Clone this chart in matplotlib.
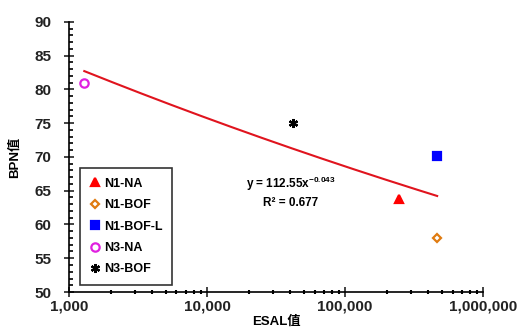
import numpy as np
import matplotlib.pyplot as plt
from matplotlib.ticker import FuncFormatter, MultipleLocator, LogLocator

plt.rcParams['font.family'] = ['Liberation Sans', 'Noto Sans CJK SC', 'DejaVu Sans']
plt.rcParams['font.weight'] = 'bold'
plt.rcParams['mathtext.fontset'] = 'custom'
plt.rcParams['mathtext.rm'] = 'Liberation Sans:bold'
plt.rcParams['mathtext.default'] = 'rm'

# ESAL vs BPN per section
names = ['N1-NA', 'N1-BOF', 'N1-BOF-L', 'N3-NA', 'N3-BOF']
esal = [246000, 464000, 464000, 1290, 42000]
bpn = [63.8, 58.0, 70.1, 81.0, 75.0]

# power-law fit y = a * x^b
a, b = 112.55, -0.043
r2 = 0.677

styles = {
    'N1-NA': dict(marker='^', color='red', facecolor='red', ms=6),
    'N1-BOF': dict(marker='D', color='#e07b10', facecolor='white', ms=4.5),
    'N1-BOF-L': dict(marker='s', color='blue', facecolor='blue', ms=6),
    'N3-NA': dict(marker='o', color='#e020e0', facecolor='white', ms=6),
    'N3-BOF': dict(marker=(6, 2, 0), color='black', facecolor='black', ms=6.5),
}

fig = plt.figure(figsize=(5.19, 3.27), dpi=100)
ax = fig.add_axes([0.133, 0.107, 0.798, 0.826])

xfit = np.logspace(np.log10(min(esal)), np.log10(max(esal)), 200)
ax.plot(xfit, a * xfit ** b, color='#e0141e', lw=1.5, zorder=2)

for n, x, y in zip(names, esal, bpn):
    s = styles[n]
    ax.plot([x], [y], linestyle='none', marker=s['marker'], markersize=s['ms'],
            markerfacecolor=s['facecolor'], markeredgecolor=s['color'],
            markeredgewidth=1.6, label=n, zorder=3)

ax.set_xscale('log')
ax.set_xlim(1000, 1000000)
ax.set_ylim(50, 90)
ax.yaxis.set_major_locator(MultipleLocator(5))
ax.yaxis.set_minor_locator(MultipleLocator(1))
ax.xaxis.set_major_locator(LogLocator(base=10))
ax.xaxis.set_minor_locator(LogLocator(base=10, subs=np.arange(2, 10)))
ax.xaxis.set_major_formatter(FuncFormatter(lambda v, p: f'{v:,.0f}'))

for side in ['top', 'right']:
    ax.spines[side].set_visible(False)
for side in ['left', 'bottom']:
    ax.spines[side].set_linewidth(1.2)

ax.tick_params(axis='both', which='major', direction='inout', length=7, width=1.2,
               labelsize=11, colors='#222222')
ax.tick_params(axis='y', which='major', pad=9)
ax.tick_params(axis='x', which='major', pad=2)
ax.tick_params(axis='y', which='minor', direction='in', length=3, width=1.2)
ax.tick_params(axis='x', which='minor', direction='inout', length=3, width=1.5)

ax.set_xlabel('ESAL值', fontsize=9.5, fontweight='bold', labelpad=1)
ax.set_ylabel('BPN值', fontsize=9.5, fontweight='bold', labelpad=10)

ax.text(0.535, 0.37, f'y = {a}x$^{{{b}}}$\nR² = {r2}', transform=ax.transAxes,
        fontsize=8.5, fontweight='bold', ha='center', va='center', linespacing=1.4)

leg = ax.legend(loc='lower left', bbox_to_anchor=(0.027, 0.025), fontsize=9,
                frameon=True, fancybox=False, edgecolor='black', handlelength=0.8,
                handletextpad=0.3, labelspacing=0.75, borderpad=0.8, borderaxespad=0)
leg.get_frame().set_linewidth(1.2)

fig.savefig('out.png', dpi=100)
